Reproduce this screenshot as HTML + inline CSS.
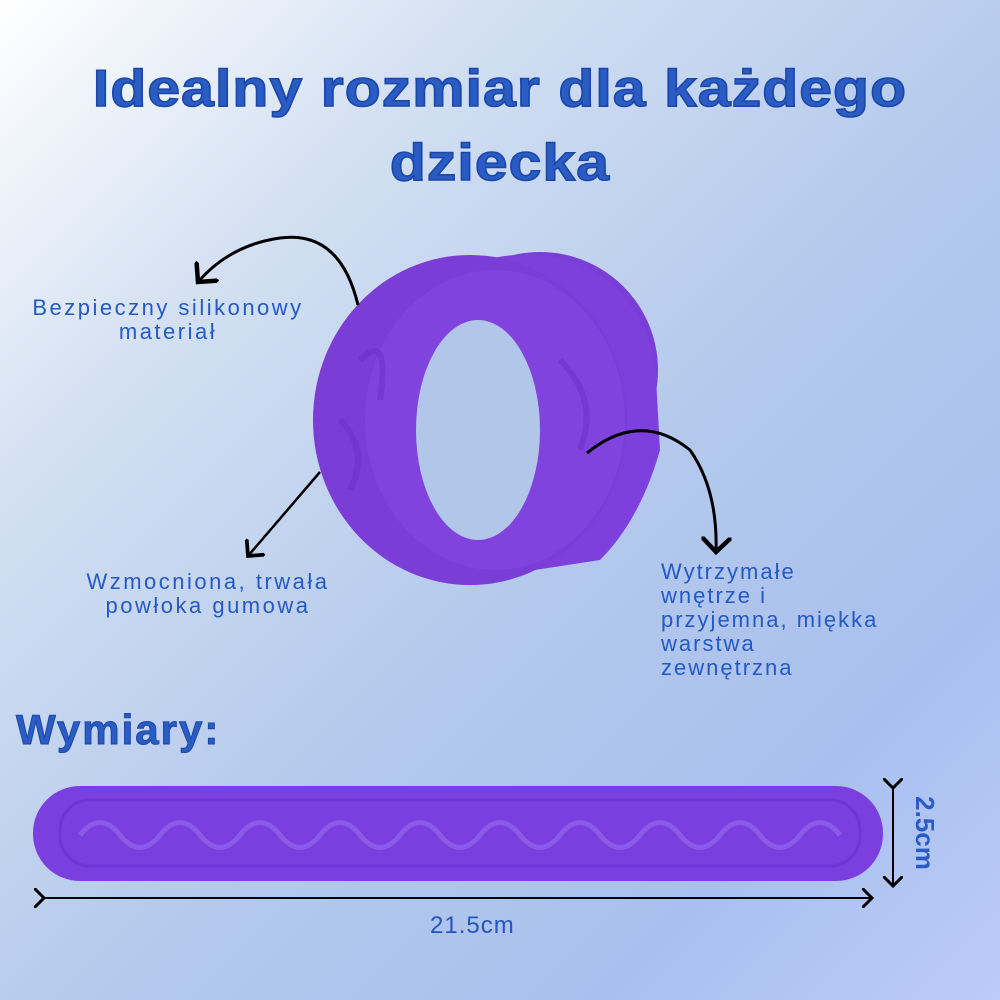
<!DOCTYPE html>
<html><head><meta charset="utf-8"><style>
body{margin:0;width:1000px;height:1000px;overflow:hidden;background:linear-gradient(135deg,#ffffff 0%,#d3e0f2 25%,#b4c9ec 55%,#a9c0ee 80%,#bccbf9 100%);font-family:"Liberation Sans","DejaVu Sans",sans-serif;position:relative}
.t{position:absolute;color:#2456c0;}
.title{left:0;width:1000px;text-align:center;font-size:52px;font-weight:bold;color:#2a5cc4;-webkit-text-stroke:1.5px #1b47a8;line-height:74px;top:52px;letter-spacing:1px;transform:scaleX(1.13);transform-origin:center}
.lab{font-size:22px;line-height:24px;color:#2559c4;letter-spacing:2.5px}
</style></head><body>
<div class="t title">Idealny rozmiar dla każdego<br>dziecka</div>
<div class="t lab" style="left:8px;top:296px;width:320px;text-align:center">Bezpieczny silikonowy<br>materiał</div>
<div class="t lab" style="left:58px;top:570px;width:300px;text-align:center">Wzmocniona, trwała<br>powłoka gumowa</div>
<div class="t lab" style="left:661px;top:560px;width:260px;line-height:24px;letter-spacing:2px">Wytrzymałe<br>wnętrze i<br>przyjemna, miękka<br>warstwa<br>zewnętrzna</div>
<div class="t" style="left:16px;top:706px;font-size:42px;font-weight:bold;color:#2a5cc4;-webkit-text-stroke:1px #1b47a8;letter-spacing:2px">Wymiary:</div>
<div class="t" style="left:430px;top:912px;font-size:24px;color:#2456c0;letter-spacing:1px">21.5cm</div>
<div class="t" style="left:880px;top:818px;font-size:26px;font-weight:bold;color:#2a5cc4;transform:rotate(90deg);transform-origin:center;width:90px;height:30px;text-align:center">2.5cm</div>
<svg width="1000" height="1000" style="position:absolute;left:0;top:0">
<defs><marker id="a" markerWidth="10" markerHeight="10" refX="5" refY="5" orient="auto"><path d="M0,0 L5,5 L0,10" fill="none" stroke="#000" stroke-width="1.5"/></marker></defs>
<ellipse cx="540" cy="370" rx="118" ry="118" fill="#7a3ed8"/>
<path d="M400,300 Q470,250 540,255 Q630,265 655,360 L660,450 Q640,520 600,560 L470,580 Z" fill="#7d40dc"/>
<ellipse cx="470" cy="420" rx="157" ry="165" fill="#7a3dd6"/>
<ellipse cx="495" cy="420" rx="130" ry="150" fill="#8448e2" opacity="0.6"/>
<ellipse cx="478" cy="430" rx="62" ry="110" fill="#b2c6ea"/>
<path d="M360,360 Q390,330 380,400 M340,420 Q370,450 350,490 M560,360 Q600,400 580,450" stroke="#6a30c4" stroke-width="6" fill="none" opacity="0.5"/>
<path d="M358,305 Q340,230 280,238 Q230,245 198,282" fill="none" stroke="#000" stroke-width="3" marker-end="url(#a)"/>
<path d="M320,472 L248,556" fill="none" stroke="#000" stroke-width="2.5" marker-end="url(#a)"/>
<path d="M587,453 Q640,410 690,450 Q718,490 716,552" fill="none" stroke="#000" stroke-width="3" marker-end="url(#a)"/>
<rect x="33" y="786" width="850" height="95" rx="47" fill="#7b3fe0"/>
<rect x="60" y="800" width="800" height="66" rx="30" fill="none" stroke="#6a2fd0" stroke-width="3" opacity="0.6"/>
<path d="M80,835 q20,-25 40,0 t40,0 t40,0 t40,0 t40,0 t40,0 t40,0 t40,0 t40,0 t40,0 t40,0 t40,0 t40,0 t40,0 t40,0 t40,0 t40,0 t40,0 t40,0" fill="none" stroke="#9466ec" stroke-width="5" opacity="0.7"/>
<line x1="44" y1="898" x2="872" y2="898" stroke="#000" stroke-width="2" marker-end="url(#a)" marker-start="url(#a)"/>
<line x1="893" y1="788" x2="893" y2="886" stroke="#000" stroke-width="2" marker-end="url(#a)" marker-start="url(#a)"/>
</svg>
</body></html>
